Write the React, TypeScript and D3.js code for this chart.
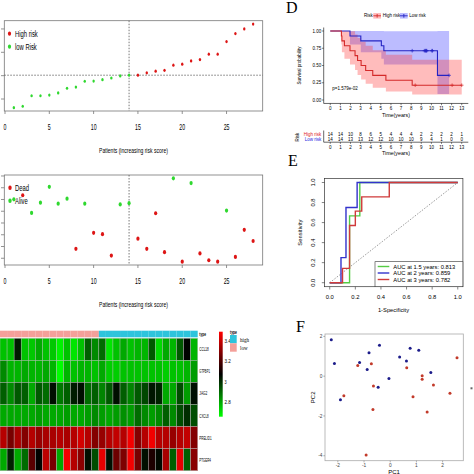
import React from "react";
import * as d3 from "d3";

// ---------- Panel A: risk score ----------
const patients = d3.range(1, 29);
const riskScore = [0.63, 0.69, 1.14, 1.14, 1.17, 1.26, 1.46, 1.51, 1.76, 1.77, 1.83, 1.9, 1.99, 2.02,
  2.02, 2.12, 2.19, 2.23, 2.45, 2.49, 2.63, 2.69, 2.92, 2.92, 3.46, 3.8, 4.0, 4.21];
const riskGroup = ["low", "low", "low", "low", "low", "low", "low", "low", "low", "low", "low", "low", "low", "low",
  "high", "high", "high", "high", "high", "high", "high", "high", "high", "high", "high", "high", "high", "high"];
const riskCutoff = 2.02;
const lowCount = 14;
const xTicksA = [0, 5, 10, 15, 20, 25];
const yTicksA = [1, 2, 3, 4];

// ---------- Panel B: survival status ----------
const survTime = [6.01, 6.36, 4.86, 5.73, 7.08, 5.64, 6.07, 1.8, 5.64, 3.16, 3.05, 1.23, 5.58, 5.69,
  2.67, 1.8, 4.83, 1.52, 7.8, 0.71, 7.4, 1.41, 0.83, 0.71, 5.06, 1.11, 3.42, 2.47];
const survStatus = [0, 1, 0, 0, 0, 0, 0, 1, 0, 1, 1, 1, 0, 0, 1, 1, 1, 1, 0, 1, 0, 1, 1, 1, 0, 1, 1, 1];
const yTicksB = [1, 2, 3, 4, 5, 6, 7, 8];

// ---------- Panel C: heatmap ----------
const genes = ["CCL18", "GTPBP1", "JAG2", "CXCL8", "PRELID1", "PTGER4"];
const exprCCL18 = [2.76, 2.76, 3.03, 2.76, 2.75, 2.8, 2.76, 2.75, 2.68, 2.76, 2.7, 2.76, 2.92, 2.85, 2.9, 2.7, 2.76, 2.8, 2.76, 2.78, 2.78, 2.93, 2.72, 2.8, 2.78, 2.93, 3.07, 2.78];
const exprGTPBP1 = [2.85, 2.78, 2.78, 2.8, 2.78, 2.78, 2.8, 2.78, 2.65, 2.78, 2.76, 2.78, 2.78, 2.76, 2.8, 2.74, 2.74, 2.76, 2.76, 2.76, 2.76, 2.76, 2.76, 2.74, 2.76, 2.76, 2.78, 2.82];
const exprJAG2 = [2.92, 2.85, 2.93, 2.92, 2.8, 2.93, 2.9, 3.05, 2.88, 2.92, 3.03, 3.05, 2.9, 2.92, 2.86, 2.93, 3.05, 2.92, 2.86, 2.93, 2.96, 3.04, 3.02, 2.8, 2.8, 2.95, 2.82, 3.05];
const exprCXCL8 = [2.8, 2.8, 2.8, 2.8, 2.8, 2.82, 2.8, 2.8, 2.8, 2.82, 2.8, 2.8, 2.82, 2.85, 2.82, 2.8, 2.82, 2.84, 2.82, 2.9, 2.85, 2.82, 2.85, 2.92, 2.85, 2.95, 3.0, 2.95];
const exprPRELID1 = [3.37, 3.27, 3.35, 3.29, 3.37, 3.32, 3.35, 3.35, 3.37, 3.35, 3.37, 3.42, 3.37, 3.29, 3.32, 3.37, 3.39, 3.37, 3.47, 3.29, 3.37, 3.47, 3.37, 3.37, 3.32, 3.37, 3.39, 3.29];
const exprPTGER4 = [2.8, 3.02, 2.8, 2.9, 3.22, 3.07, 3.38, 3.27, 2.8, 3.47, 3.37, 3.3, 3.05, 2.95, 3.45, 3.05, 3.25, 3.28, 3.47, 3.27, 3.05, 3.12, 3.06, 3.35, 2.92, 3.45, 2.92, 3.3];
const sampleType = riskGroup;
const heatLegendTicks = [3.4, 3.2, 3, 2.8];

// ---------- Panel D: Kaplan-Meier ----------
const highTime = [1.1, 1.15, 1.4, 1.95, 2.45, 2.7, 3.05, 3.5, 4.2, 5.5, 8.1, 8.4, 12.05, 13];
const highEvent = [1, 1, 1, 1, 1, 1, 1, 1, 1, 1, 1, 0, 0, 0];
const lowTime = [1.95, 3.02, 5.05, 5.3, 8.1, 9.3, 9.4, 9.45, 9.5, 9.55, 10.05, 10.1, 10.6, 11.75];
const lowEvent = [1, 1, 1, 1, 0, 0, 0, 0, 0, 0, 0, 0, 1, 0];
const kmTimes = d3.range(0, 14);
const kmYTicks = [0, 0.25, 0.5, 0.75, 1];
const pValueText = "p=1.579e-02";

// ---------- Panel E: ROC ----------
const fpr15 = [0, 0.155, 0.155, 0.235, 0.235, 1];
const tpr15 = [0, 0, 0.667, 0.667, 1, 1];
const fpr2 = [0, 0.088, 0.088, 0.127, 0.127, 0.214, 0.214, 1];
const tpr2 = [0, 0, 0.25, 0.25, 0.75, 0.75, 1, 1];
const fpr3 = [0, 0.1, 0.1, 0.155, 0.155, 0.2, 0.2, 0.25, 0.25, 0.465, 0.465, 1];
const tpr3 = [0, 0, 0.143, 0.143, 0.571, 0.571, 0.714, 0.714, 0.857, 0.857, 1, 1];
const rocLabels = ["AUC at 1.5 years: 0.813", "AUC at 2 years: 0.859", "AUC at 3 years: 0.782"];
const rocTicks = [0, 0.2, 0.4, 0.6, 0.8, 1.0];

// ---------- Panel F: PCA ----------
const pc1Low = [-2.25, -2.13, -1.17, -0.81, -0.88, -0.41, -0.46, -0.05, 0.36, 0.62, 0.76, 1.09, 1.55, -1.9];
const pc2Low = [1.83, 0.64, 0.69, 1.18, 0.34, 1.55, -0.56, -0.12, 0.96, 0.76, 1.4, 1.3, 0.19, -1.18];
const pc1High = [-1.24, -0.72, -0.64, -1.77, -0.66, -0.92, 0.63, 1.22, 1.22, 0.87, 1.65, 1.41, 2.28, 2.55];
const pc2High = [0.54, 0.62, -0.49, -0.98, -1.68, -3.96, 0.42, 0.02, -0.15, -1.03, -0.45, -1.8, -0.86, 0.92];
const pcXTicks = [-2, -1, 0, 1, 2];
const pcYTicks = [-4, -2, 0, 2];

const SANS = "Liberation Sans, Arial, sans-serif";
const SERIF = "Liberation Serif, Times New Roman, serif";
const SX = 0.63;
const RED = "#dd1515";
const GREEN = "#2fd82f";

function pad(ext: [number, number], f: number): [number, number] {
  const r = ext[1] - ext[0];
  return [ext[0] - r * f, ext[1] + r * f];
}

function CT(props: any) {
  const { x, y, size, anchor = "start", fill = "#000", sx = SX, family = SANS, weight = "normal", children } = props;
  return (
    <text transform={`translate(${x},${y}) scale(${sx},1)`} fontSize={size} textAnchor={anchor}
      fill={fill} fontFamily={family} fontWeight={weight}>{children}</text>
  );
}

function kmFit(times: number[], events: number[]) {
  const order = d3.range(times.length).sort((a, b) => times[a] - times[b]);
  const uniq = Array.from(new Set(order.map((i) => times[i])));
  let n = times.length, s = 1, v = 0;
  const steps: any[] = [{ t: 0, s: 1, lo: 1, hi: 1 }];
  const cens: any[] = [];
  for (const t of uniq) {
    const here = order.filter((i) => times[i] === t);
    const d = here.filter((i) => events[i] === 1).length;
    if (d > 0) {
      s *= (n - d) / n;
      v += d / (n * (n - d));
      const se = Math.sqrt(v);
      steps.push({ t, s, lo: s * Math.exp(-1.96 * se), hi: Math.min(1, s * Math.exp(1.96 * se)) });
    }
    here.filter((i) => events[i] === 0).forEach(() => cens.push({ t, s }));
    n -= here.length;
  }
  const last = steps[steps.length - 1];
  steps.push({ ...last, t: d3.max(times) as number });
  return { steps, cens };
}

function PanelA() {
  const x = d3.scaleLinear().domain(pad([1, 28], 0.04)).range([4.3, 262.7]);
  const y = d3.scaleLinear().domain(pad(d3.extent(riskScore) as [number, number], 0.04)).range([111, 20.7]);
  return (
    <g>
      <rect x={4.3} y={20.7} width={258.4} height={90.3} fill="none" stroke="#777" strokeWidth={0.8} />
      <line x1={x(lowCount)} x2={x(lowCount)} y1={20.7} y2={111} stroke="#555" strokeDasharray="1.5,1.5" strokeWidth={0.8} />
      <line x1={4.3} x2={262.7} y1={y(riskCutoff)} y2={y(riskCutoff)} stroke="#555" strokeDasharray="1.5,1.5" strokeWidth={0.8} />
      {yTicksA.map((t) => <line key={t} x1={1} x2={4.3} y1={y(t)} y2={y(t)} stroke="#777" strokeWidth={0.8} />)}
      {xTicksA.map((t) => (
        <g key={t}>
          <line x1={x(t)} x2={x(t)} y1={111} y2={114} stroke="#777" strokeWidth={0.8} />
          <CT x={x(t)} y={130} size={8.3} anchor="middle">{t}</CT>
        </g>
      ))}
      <CT x={133.5} y={153} size={8} anchor="middle">Patients (increasing risk score)</CT>
      {patients.map((p, i) => (
        <ellipse key={p} cx={x(p)} cy={y(riskScore[i])} rx={1.2} ry={1.6}
          fill={riskGroup[i] === "high" ? RED : GREEN} />
      ))}
      <ellipse cx={9.5} cy={33.7} rx={1.6} ry={2.1} fill={RED} />
      <CT x={15} y={37} size={9.3}>High risk</CT>
      <ellipse cx={9.5} cy={46.7} rx={1.6} ry={2.1} fill={GREEN} />
      <CT x={15} y={50} size={9.3}>low Risk</CT>
    </g>
  );
}

function PanelB() {
  const x = d3.scaleLinear().domain(pad([1, 28], 0.04)).range([4.3, 262.7]);
  const y = d3.scaleLinear().domain(pad(d3.extent(survTime) as [number, number], 0.04)).range([265, 175]);
  return (
    <g>
      <rect x={4.3} y={175} width={258.4} height={90} fill="none" stroke="#777" strokeWidth={0.8} />
      <line x1={x(lowCount)} x2={x(lowCount)} y1={175} y2={265} stroke="#555" strokeDasharray="1.5,1.5" strokeWidth={0.8} />
      {yTicksB.map((t) => <line key={t} x1={1} x2={4.3} y1={y(t)} y2={y(t)} stroke="#777" strokeWidth={0.8} />)}
      {xTicksA.map((t) => (
        <g key={t}>
          <line x1={x(t)} x2={x(t)} y1={265} y2={268} stroke="#777" strokeWidth={0.8} />
          <CT x={x(t)} y={284} size={8.3} anchor="middle">{t}</CT>
        </g>
      ))}
      <CT x={133.5} y={307} size={8} anchor="middle">Patients (increasing risk score)</CT>
      {patients.map((p, i) => (
        <ellipse key={p} cx={x(p)} cy={y(survTime[i])} rx={1.6} ry={2.1}
          fill={survStatus[i] === 1 ? RED : GREEN} />
      ))}
      <ellipse cx={10} cy={187.7} rx={1.7} ry={2.2} fill={RED} />
      <CT x={15} y={191} size={9.3}>Dead</CT>
      <ellipse cx={10} cy={200.7} rx={1.7} ry={2.2} fill={GREEN} />
      <CT x={15} y={204} size={9.3}>Alive</CT>
    </g>
  );
}

function PanelC() {
  const rows = [exprCCL18, exprGTPBP1, exprJAG2, exprCXCL8, exprPRELID1, exprPTGER4];
  const x = d3.scaleBand().domain(patients.map(String)).range([0, 197.7]);
  const y = d3.scaleBand().domain(genes).range([338.3, 470.7]);
  const color = d3.scaleLinear<string>().domain([2.66, 3.075, 3.49]).range(["#00ff00", "#000000", "#ff0000"]).clamp(true);
  const typeColor = (t: string) => (t === "high" ? "#2ec4dc" : "#f4a09a");
  const ly = d3.scaleLinear().domain([2.66, 3.49]).range([416.7, 331.7]);
  const labelLen = [9.4, 10.7, 8, 9.3, 12.3, 11.7];
  return (
    <g>
      <defs>
        <linearGradient id="hg" x1="0" y1="0" x2="0" y2="1">
          <stop offset="0" stopColor="#ff0000" />
          <stop offset="0.5" stopColor="#000000" />
          <stop offset="1" stopColor="#00ff00" />
        </linearGradient>
      </defs>
      {patients.map((p, i) => (
        <rect key={p} x={x(String(p))} y={330.7} width={x.bandwidth()} height={6.6} fill={typeColor(sampleType[i])} />
      ))}
      {rows.map((row, r) => patients.map((p, i) => (
        <rect key={r + "-" + p} x={x(String(p))} y={y(genes[r])} width={x.bandwidth()} height={y.bandwidth()}
          fill={color(row[i])} stroke="#b8b8b8" strokeWidth={0.4} />
      )))}
      <text x={199.3} y={336} fontSize={5.5} fontFamily={SANS} fontWeight="bold" textLength={6.7} lengthAdjust="spacingAndGlyphs">type</text>
      {genes.map((g, r) => (
        <text key={g} x={199.3} y={(y(g) as number) + y.bandwidth() / 2 + 2} fontSize={6} fontFamily={SANS}
          textLength={labelLen[r]} lengthAdjust="spacingAndGlyphs">{g}</text>
      ))}
      <rect x={219} y={331.7} width={3.7} height={85} fill="url(#hg)" />
      {heatLegendTicks.map((t) => (
        <text key={t} x={224.5} y={ly(t) + 1.8} fontSize={5} fontFamily={SANS}
          textLength={String(t).length * 2.1} lengthAdjust="spacingAndGlyphs">{String(t)}</text>
      ))}
      <text x={230} y={333.5} fontSize={5.5} fontFamily={SANS} fontWeight="bold" textLength={7} lengthAdjust="spacingAndGlyphs">type</text>
      <rect x={230} y={335} width={6.7} height={8.3} fill="#2ec4dc" />
      <rect x={230} y={343.3} width={6.7} height={8.4} fill="#f4a09a" />
      <text x={240} y={341.5} fontSize={6} fontFamily={SERIF} textLength={9} lengthAdjust="spacingAndGlyphs">high</text>
      <text x={240} y={350} fontSize={6} fontFamily={SERIF} textLength={7.5} lengthAdjust="spacingAndGlyphs">low</text>
    </g>
  );
}

function PanelD() {
  const x = d3.scaleLinear().domain([-0.65, 13.65]).range([323.7, 468.3]);
  const y = d3.scaleLinear().domain([-0.05, 1.05]).range([103.45, 27.55]);
  const high = kmFit(highTime, highEvent);
  const low = kmFit(lowTime, lowEvent);
  const line = d3.line<any>().x((d) => x(d.t)).y((d) => y(d.s)).curve(d3.curveStepAfter);
  const area = d3.area<any>().x((d) => x(d.t)).y0((d) => y(d.lo)).y1((d) => y(d.hi)).curve(d3.curveStepAfter);
  const cRed = "#d42a2a", cBlue = "#2424c4";
  const plus = (cx: number, cy: number) => `M${cx - 1.8},${cy}h3.6M${cx},${cy - 1.8}v3.6`;
  const atRisk = (times: number[], t: number) => times.filter((v) => v >= t).length;
  return (
    <g fontFamily={SANS}>
      <text x={286} y={12.5} fontSize={16} fontFamily={SERIF}>D</text>
      {/* legend */}
      <text x={364} y={17.3} fontSize={4.5}>Risk</text>
      <rect x={373.3} y={13} width={7.7} height={5.6} fill="#fbb" />
      <path d="M373.3,15.8h7.7M377.15,14v3.6" stroke={cRed} strokeWidth={0.9} />
      <text x={382.7} y={17.3} fontSize={4.5}>High risk</text>
      <rect x={400} y={13} width={7.7} height={5.6} fill="#bbf" />
      <path d="M400,15.8h7.7M403.85,14v3.6" stroke={cBlue} strokeWidth={0.9} />
      <text x={409.3} y={17.3} fontSize={4.5}>Low risk</text>
      {/* bands */}
      <path d={area(low.steps) as string} fill="#3333ff" fillOpacity={0.33} />
      <path d={area(high.steps) as string} fill="#ff3333" fillOpacity={0.33} />
      <path d={line(low.steps) as string} fill="none" stroke={cBlue} strokeWidth={1.1} />
      <path d={line(high.steps) as string} fill="none" stroke={cRed} strokeWidth={1.1} />
      {low.cens.map((c: any, i: number) => <path key={"l" + i} d={plus(x(c.t), y(c.s))} stroke={cBlue} strokeWidth={0.7} />)}
      {high.cens.map((c: any, i: number) => <path key={"h" + i} d={plus(x(c.t), y(c.s))} stroke={cRed} strokeWidth={0.7} />)}
      {/* axes */}
      <line x1={323.7} x2={323.7} y1={27.5} y2={103.45} stroke="#000" strokeWidth={0.6} />
      <line x1={323.7} x2={468.3} y1={103.45} y2={103.45} stroke="#000" strokeWidth={0.6} />
      {kmYTicks.map((t) => (
        <g key={t}>
          <line x1={321.9} x2={323.7} y1={y(t)} y2={y(t)} stroke="#000" strokeWidth={0.5} />
          <text x={321.2} y={y(t) + 1.6} fontSize={4.5} textAnchor="end">{t.toFixed(2)}</text>
        </g>
      ))}
      {kmTimes.map((t) => (
        <g key={t}>
          <line x1={x(t)} x2={x(t)} y1={103.45} y2={105.2} stroke="#000" strokeWidth={0.5} />
          <text x={x(t)} y={110.3} fontSize={4.5} textAnchor="middle">{t}</text>
        </g>
      ))}
      <text x={396} y={117.2} fontSize={5.3} textAnchor="middle">Time(years)</text>
      <text transform="translate(301,65.5) rotate(-90)" fontSize={4.5} textAnchor="middle">Survival probability</text>
      <text x={332.3} y={89.8} fontSize={4.5}>{pValueText}</text>
      {/* risk table */}
      <line x1={323.7} x2={323.7} y1={130.5} y2={142.2} stroke="#000" strokeWidth={0.6} />
      <line x1={323.7} x2={468.3} y1={142.2} y2={142.2} stroke="#000" strokeWidth={0.6} />
      <text transform="translate(298.8,137) rotate(-90)" fontSize={4.5} textAnchor="middle">Risk</text>
      <text x={321.3} y={135.8} fontSize={4.5} textAnchor="end" fill="#e02020">High risk</text>
      <text x={321.3} y={141} fontSize={4.5} textAnchor="end" fill="#2020e0">Low risk</text>
      {kmTimes.map((t) => (
        <g key={t}>
          <text x={x(t)} y={135.8} fontSize={4.5} textAnchor="middle">{atRisk(highTime, t)}</text>
          <text x={x(t)} y={141} fontSize={4.5} textAnchor="middle">{atRisk(lowTime, t)}</text>
          <line x1={x(t)} x2={x(t)} y1={142.2} y2={143.9} stroke="#000" strokeWidth={0.5} />
          <text x={x(t)} y={148.7} fontSize={4.5} textAnchor="middle">{t}</text>
        </g>
      ))}
      <text x={396} y={154.5} fontSize={5.3} textAnchor="middle">Time(years)</text>
    </g>
  );
}

function PanelE() {
  const x = d3.scaleLinear().domain([-0.04, 1.04]).range([324.6, 462.9]);
  const y = d3.scaleLinear().domain([-0.04, 1.04]).range([286.7, 178.5]);
  const mk = (fx: number[], ty: number[]) =>
    d3.line<number>().x((d) => x(d)).y((_, i) => y(ty[i]))(fx) as string;
  const curves = [
    { d: mk(fpr15, tpr15), c: "#55cc44" },
    { d: mk(fpr2, tpr2), c: "#3333cc" },
    { d: mk(fpr3, tpr3), c: "#d03a3a" },
  ];
  const legendY = [266.5, 273, 279.5];
  return (
    <g fontFamily={SANS}>
      <text x={288} y={166} fontSize={16} fontFamily={SERIF}>E</text>
      <line x1={x(0)} y1={y(0)} x2={x(1)} y2={y(1)} stroke="#555" strokeWidth={0.6} strokeDasharray="1.5,1.5" />
      {curves.map((c, i) => <path key={i} d={c.d} fill="none" stroke={c.c} strokeWidth={1.4} />)}
      <rect x={324.6} y={178.5} width={138.3} height={108.2} fill="none" stroke="#333" strokeWidth={0.7} />
      {rocTicks.map((t) => (
        <g key={t}>
          <line x1={x(t)} x2={x(t)} y1={286.7} y2={289.5} stroke="#333" strokeWidth={0.6} />
          <text x={x(t)} y={298.8} fontSize={5.8} textAnchor="middle">{t.toFixed(1)}</text>
          <line x1={321.8} x2={324.6} y1={y(t)} y2={y(t)} stroke="#333" strokeWidth={0.6} />
          <text transform={`translate(315.3,${y(t)}) rotate(-90)`} fontSize={5.8} textAnchor="middle">{t.toFixed(1)}</text>
        </g>
      ))}
      <text x={393.5} y={312} fontSize={5.8} textAnchor="middle">1-Specificity</text>
      <text transform="translate(302,232.6) rotate(-90)" fontSize={5.8} textAnchor="middle">Sensitivity</text>
      <rect x={375} y={261.7} width={87.9} height={25} fill="#fff" stroke="#333" strokeWidth={0.6} />
      {rocLabels.map((l, i) => (
        <g key={l}>
          <line x1={377.7} x2={389.3} y1={legendY[i]} y2={legendY[i]} stroke={curves[i].c} strokeWidth={1.4} />
          <text x={393.3} y={legendY[i] + 2} fontSize={5.8}>{l}</text>
        </g>
      ))}
    </g>
  );
}

function PanelF() {
  const x = d3.scaleLinear().domain(pad(d3.extent([...pc1Low, ...pc1High]) as [number, number], 0.05)).range([325, 463.3]);
  const y = d3.scaleLinear().domain(pad(d3.extent([...pc2Low, ...pc2High]) as [number, number], 0.05)).range([460.7, 334]);
  return (
    <g fontFamily={SANS}>
      <text x={296} y={331.5} fontSize={16} fontFamily={SERIF}>F</text>
      <rect x={325} y={334} width={138.3} height={126.7} fill="none" stroke="#aaa" strokeWidth={0.8} />
      {pcXTicks.map((t) => (
        <g key={t}>
          <line x1={x(t)} x2={x(t)} y1={460.7} y2={462.4} stroke="#666" strokeWidth={0.5} />
          <text x={x(t)} y={467.4} fontSize={4.8} textAnchor="middle" fill="#444">{t}</text>
        </g>
      ))}
      {pcYTicks.map((t) => (
        <g key={t}>
          <line x1={323.3} x2={325} y1={y(t)} y2={y(t)} stroke="#666" strokeWidth={0.5} />
          <text x={322.4} y={y(t) + 1.7} fontSize={4.8} textAnchor="end" fill="#444">{t}</text>
        </g>
      ))}
      <text x={394} y={473.5} fontSize={6} textAnchor="middle">PC1</text>
      <text transform="translate(314.5,397.3) rotate(-90)" fontSize={6} textAnchor="middle">PC2</text>
      {pc1Low.map((v, i) => <circle key={"b" + i} cx={x(v)} cy={y(pc2Low[i])} r={1.5} fill="#1c1c8a" />)}
      {pc1High.map((v, i) => <circle key={"r" + i} cx={x(v)} cy={y(pc2High[i])} r={1.5} fill="#c23a2a" />)}
      <rect x={470.5} y={387.3} width={2} height={2} fill="#666" />
    </g>
  );
}

export default function App() {
  return (
    <svg width={474} height={474} style={{ position: "absolute", left: 0, top: 0, background: "#fff" }}>
      <rect width={474} height={474} fill="#fff" />
      <PanelA />
      <PanelB />
      <PanelC />
      <PanelD />
      <PanelE />
      <PanelF />
    </svg>
  );
}
